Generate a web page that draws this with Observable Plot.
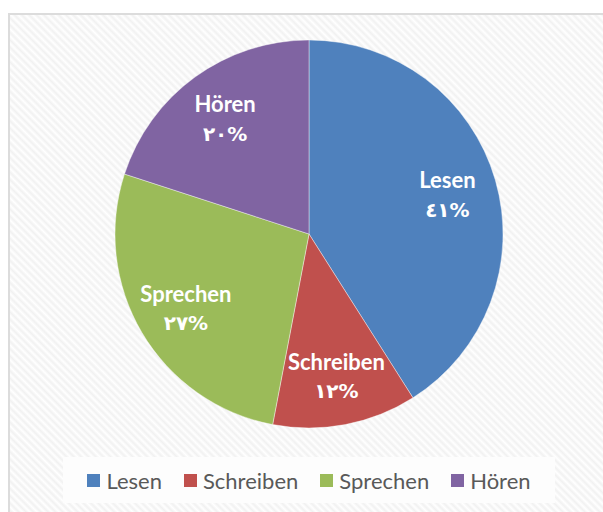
<!DOCTYPE html>
<html>
<head>
<meta charset="utf-8">
<script src="https://cdn.jsdelivr.net/npm/d3@7"></script>
<script src="https://cdn.jsdelivr.net/npm/@observablehq/plot@0.6"></script>
<style>
  html, body { margin: 0; padding: 0; background: #fff; width: 603px; height: 512px; overflow: hidden; }
  #frame {
    position: absolute; left: 8px; top: 13px; width: 640px; height: 540px;
    border: 2px solid #dcdcdc; box-sizing: border-box;
    background: repeating-linear-gradient(45deg, #ffffff 0px, #f1f1f1 2.6px, #ffffff 5.2px);
  }
  #chart { position: absolute; left: 0; top: 0; }
  #legend {
    position: absolute; left: 63px; top: 457px; width: 492px; height: 46px;
    background: #fdfdfd; display: flex; align-items: center; justify-content: center;
    font-family: Lato, "Open Sans", sans-serif; font-size: 22px; color: #595959; gap: 0;
  }
  .item { display: flex; align-items: center; margin: 0 11px; }
  .sw { width: 13px; height: 13px; margin-right: 6px; }
</style>
</head>
<body>
<div id="frame"></div>
<div id="chart"></div>
<div id="legend"></div>
<script>
const categories = ["Lesen", "Schreiben", "Sprechen", "Hören"];
const values = [41, 12, 27, 20];
const pctLabels = ["٤١%", "١٢%", "٢٧%", "٢٠%"];
const colors = ["#4F81BD", "#C0504D", "#9BBB59", "#8064A2"];

const data = categories.map((c, i) => ({ category: c, value: values[i], pct: pctLabels[i] }));
const arcs = d3.pie().sort(null).value(d => d.value)(data);
const labelR = 0.74;
const labels = arcs.map(a => {
  const m = (a.startAngle + a.endAngle) / 2;
  return { ...a.data, x: labelR * Math.sin(m), y: labelR * Math.cos(m) };
});

function pieMark(index, scales, values_, dimensions, context) {
  const cx = scales.x(0), cy = scales.y(0);
  const r = scales.x(1) - scales.x(0);
  const g = d3.create("svg:g").attr("transform", `translate(${cx},${cy})`);
  const arcGen = d3.arc().innerRadius(0).outerRadius(r);
  g.selectAll("path").data(arcs).join("path")
    .attr("d", arcGen)
    .attr("fill", d => colors[categories.indexOf(d.data.category)])
    .attr("stroke", "#ffffff").attr("stroke-width", 0.8).attr("stroke-opacity", 0.5);
  return g.node();
}

const chart = Plot.plot({
  width: 603, height: 512,
  margin: 0,
  style: { background: "transparent", overflow: "visible" },
  x: { domain: [-1, 1], range: [115, 503], axis: null },
  y: { domain: [-1, 1], range: [428, 40], axis: null },
  marks: [
    pieMark,
    Plot.text(labels, { x: "x", y: "y", text: "category", dy: -13, fill: "#ffffff",
      fontSize: 22, fontWeight: "bold", fontFamily: "Lato, 'Open Sans', sans-serif" }),
    Plot.text(labels, { x: "x", y: "y", text: "pct", dy: 16, fill: "#ffffff",
      fontSize: 20, fontWeight: "bold", fontFamily: "'DejaVu Sans', sans-serif" })
  ]
});
document.getElementById("chart").appendChild(chart);

const legend = document.getElementById("legend");
categories.forEach((c, i) => {
  const it = document.createElement("div");
  it.className = "item";
  const sw = document.createElement("div");
  sw.className = "sw";
  sw.style.background = colors[i];
  const t = document.createElement("span");
  t.textContent = c;
  it.appendChild(sw); it.appendChild(t);
  legend.appendChild(it);
});
</script>
</body>
</html>
